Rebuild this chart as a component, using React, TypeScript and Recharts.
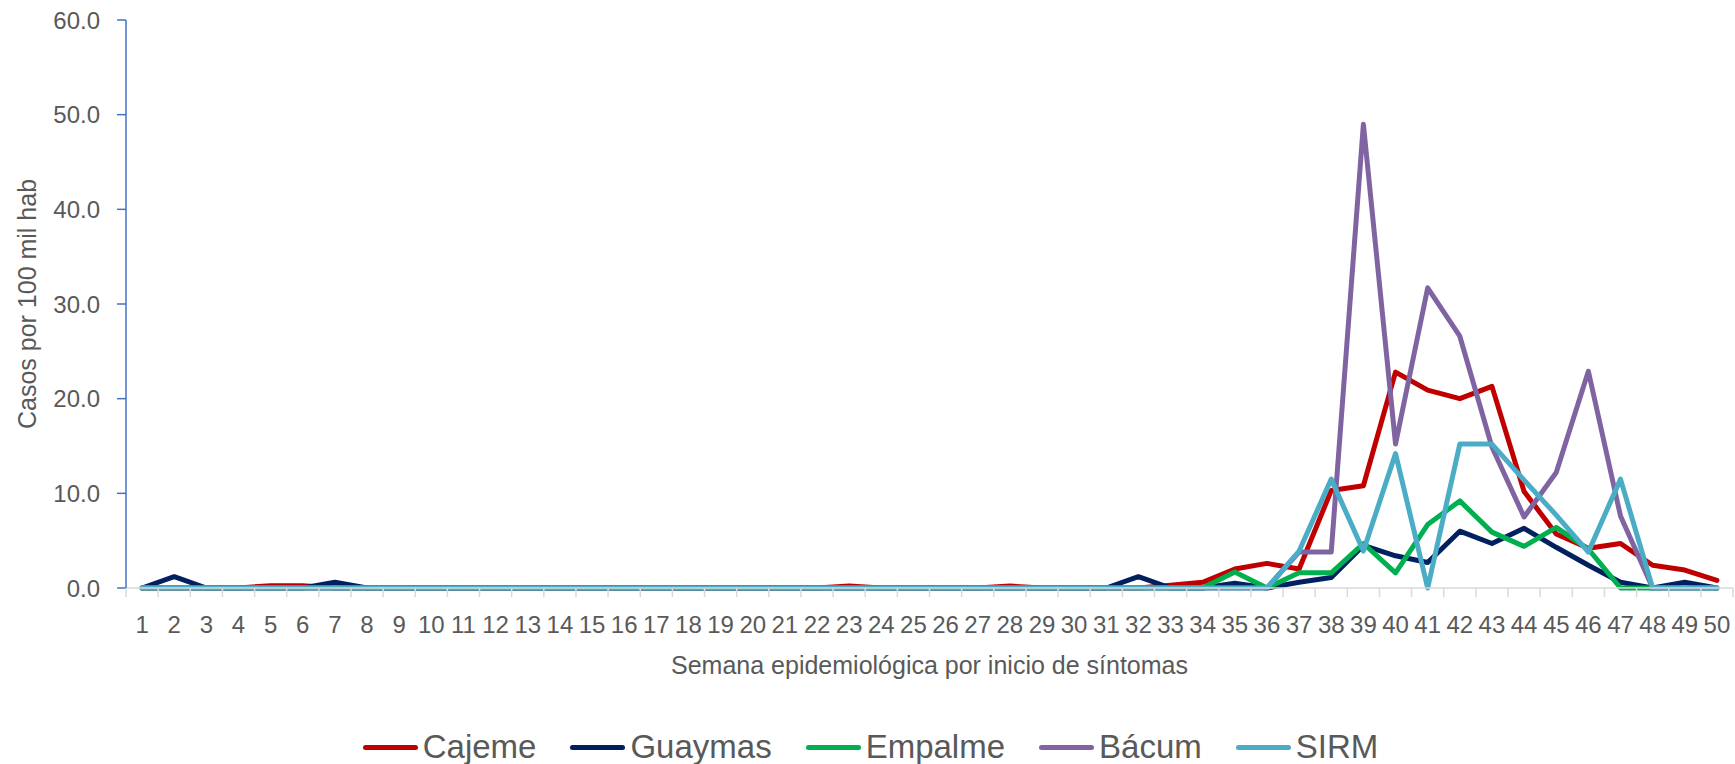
import { LineChart, Line, XAxis, YAxis, Legend } from 'recharts'

const WEEKS = [
  1, 2, 3, 4, 5, 6, 7, 8, 9, 10, 11, 12, 13, 14, 15, 16, 17, 18, 19, 20, 21, 22, 23, 24, 25,
  26, 27, 28, 29, 30, 31, 32, 33, 34, 35, 36, 37, 38, 39, 40, 41, 42, 43, 44, 45, 46, 47, 48, 49, 50,
]

// casos por 100 mil hab, semanas 1-50
const CAJEME = [
  0, 0, 0, 0, 0.25, 0.25, 0, 0, 0, 0, 0, 0, 0, 0, 0, 0, 0, 0, 0, 0, 0, 0, 0.2, 0, 0,
  0, 0, 0.2, 0, 0, 0, 0, 0.3, 0.6, 2.0, 2.6, 2.0, 10.3, 10.8, 22.8, 20.9, 20.0, 21.3, 10.2, 5.7, 4.2, 4.7, 2.4, 1.9, 0.8,
]
const GUAYMAS = [
  0, 1.2, 0, 0, 0, 0, 0.6, 0, 0, 0, 0, 0, 0, 0, 0, 0, 0, 0, 0, 0, 0, 0, 0, 0, 0,
  0, 0, 0, 0, 0, 0, 1.2, 0, 0, 0.5, 0, 0.6, 1.1, 4.5, 3.4, 2.7, 6.0, 4.7, 6.3, 4.3, 2.4, 0.6, 0, 0.6, 0,
]
const EMPALME = [
  0, 0, 0, 0, 0, 0, 0, 0, 0, 0, 0, 0, 0, 0, 0, 0, 0, 0, 0, 0, 0, 0, 0, 0, 0,
  0, 0, 0, 0, 0, 0, 0, 0, 0, 1.7, 0, 1.6, 1.6, 4.7, 1.6, 6.7, 9.2, 5.9, 4.4, 6.4, 4.1, 0, 0, 0, 0,
]
const BACUM = [
  0, 0, 0, 0, 0, 0, 0, 0, 0, 0, 0, 0, 0, 0, 0, 0, 0, 0, 0, 0, 0, 0, 0, 0, 0,
  0, 0, 0, 0, 0, 0, 0, 0, 0, 0, 0, 3.8, 3.8, 49.0, 15.2, 31.7, 26.6, 14.9, 7.5, 12.2, 22.9, 7.6, 0, 0, 0,
]
const SIRM = [
  0, 0, 0, 0, 0, 0, 0, 0, 0, 0, 0, 0, 0, 0, 0, 0, 0, 0, 0, 0, 0, 0, 0, 0, 0,
  0, 0, 0, 0, 0, 0, 0, 0, 0, 0, 0, 3.9, 11.5, 3.9, 14.2, 0, 15.2, 15.2, 11.4, 7.7, 3.8, 11.5, 0, 0, 0,
]

const Y_TICKS = [0, 10, 20, 30, 40, 50, 60]

const SERIES = [
  { key: 'Cajeme', values: CAJEME, color: '#C00000' },
  { key: 'Guaymas', values: GUAYMAS, color: '#002060' },
  { key: 'Empalme', values: EMPALME, color: '#00B050' },
  { key: 'Bácum', values: BACUM, color: '#8064A2' },
  { key: 'SIRM', values: SIRM, color: '#4BACC6' },
]

const data = WEEKS.map((week, i) => {
  const row: Record<string, number> = { week }
  SERIES.forEach((s) => {
    row[s.key] = s.values[i]
  })
  return row
})

// labels at the week centres, small marks on the boundaries between weeks
const X_TICKS = [...WEEKS.map((w) => w - 0.5), WEEKS[WEEKS.length - 1] + 0.5, ...WEEKS].sort((a, b) => a - b)

const FONT = '"Liberation Sans", Arial, sans-serif'
const TEXT = '#595959'

function WeekTick({ x, y, payload }: any) {
  const v = payload.value
  if (Number.isInteger(v)) {
    return (
      <text x={x} y={y + 36} textAnchor="middle" dominantBaseline="central" fill={TEXT} fontSize={24} fontFamily={FONT}>
        {v}
      </text>
    )
  }
  return <line x1={x} x2={x} y1={y} y2={y + 9} stroke="#D9D9D9" strokeWidth={1.5} />
}

function YTitle({ viewBox }: any) {
  const cx = viewBox.x + 27
  const cy = viewBox.y + viewBox.height / 2
  return (
    <text
      x={cx}
      y={cy}
      transform={`rotate(-90, ${cx}, ${cy})`}
      textAnchor="middle"
      dominantBaseline="central"
      fill={TEXT}
      fontSize={25}
      fontFamily={FONT}
    >
      Casos por 100 mil hab
    </text>
  )
}

function LegendRow() {
  return (
    <div
      style={{
        height: 34,
        display: 'flex',
        justifyContent: 'center',
        alignItems: 'center',
        gap: 34,
        paddingLeft: 8,
        fontFamily: FONT,
      }}
    >
      {SERIES.map((s) => (
        <div key={s.key} style={{ display: 'flex', alignItems: 'center' }}>
          <span style={{ width: 55, height: 5, borderRadius: 3, background: s.color, display: 'inline-block' }} />
          <span style={{ marginLeft: 5, fontSize: 33, color: TEXT, lineHeight: '34px' }}>{s.key}</span>
        </div>
      ))}
    </div>
  )
}

export default function App() {
  return (
    <div style={{ position: 'absolute', left: 0, top: 0, width: 1735, height: 764, background: '#fff' }}>
      <LineChart width={1735} height={764} data={data} margin={{ top: 20, right: 2, left: 0, bottom: 0 }}>
        <XAxis
          dataKey="week"
          type="number"
          domain={[0.5, 50.5]}
          ticks={X_TICKS}
          interval={0}
          tick={<WeekTick />}
          tickLine={false}
          tickSize={0}
          tickMargin={0}
          axisLine={{ stroke: '#D9D9D9', strokeWidth: 1.5 }}
          height={142}
          label={{
            value: 'Semana epidemiológica por inicio de síntomas',
            position: 'insideTop',
            offset: 68,
            fill: TEXT,
            fontSize: 25,
            fontFamily: FONT,
          }}
        />
        <YAxis
          domain={[0, 60]}
          ticks={Y_TICKS}
          interval={0}
          width={126}
          tickFormatter={(v: number) => v.toFixed(1)}
          tick={{ fill: TEXT, fontSize: 24, fontFamily: FONT }}
          tickSize={9}
          tickMargin={17}
          axisLine={{ stroke: '#4472C4', strokeWidth: 1.5 }}
          tickLine={{ stroke: '#4472C4', strokeWidth: 1.5 }}
          label={<YTitle />}
        />
        <Legend verticalAlign="bottom" height={34} content={<LegendRow />} />
        {SERIES.map((s) => (
          <Line
            key={s.key}
            dataKey={s.key}
            type="linear"
            stroke={s.color}
            strokeWidth={5}
            strokeLinejoin="round"
            strokeLinecap="round"
            dot={false}
            activeDot={false}
            isAnimationActive={false}
          />
        ))}
      </LineChart>
    </div>
  )
}
